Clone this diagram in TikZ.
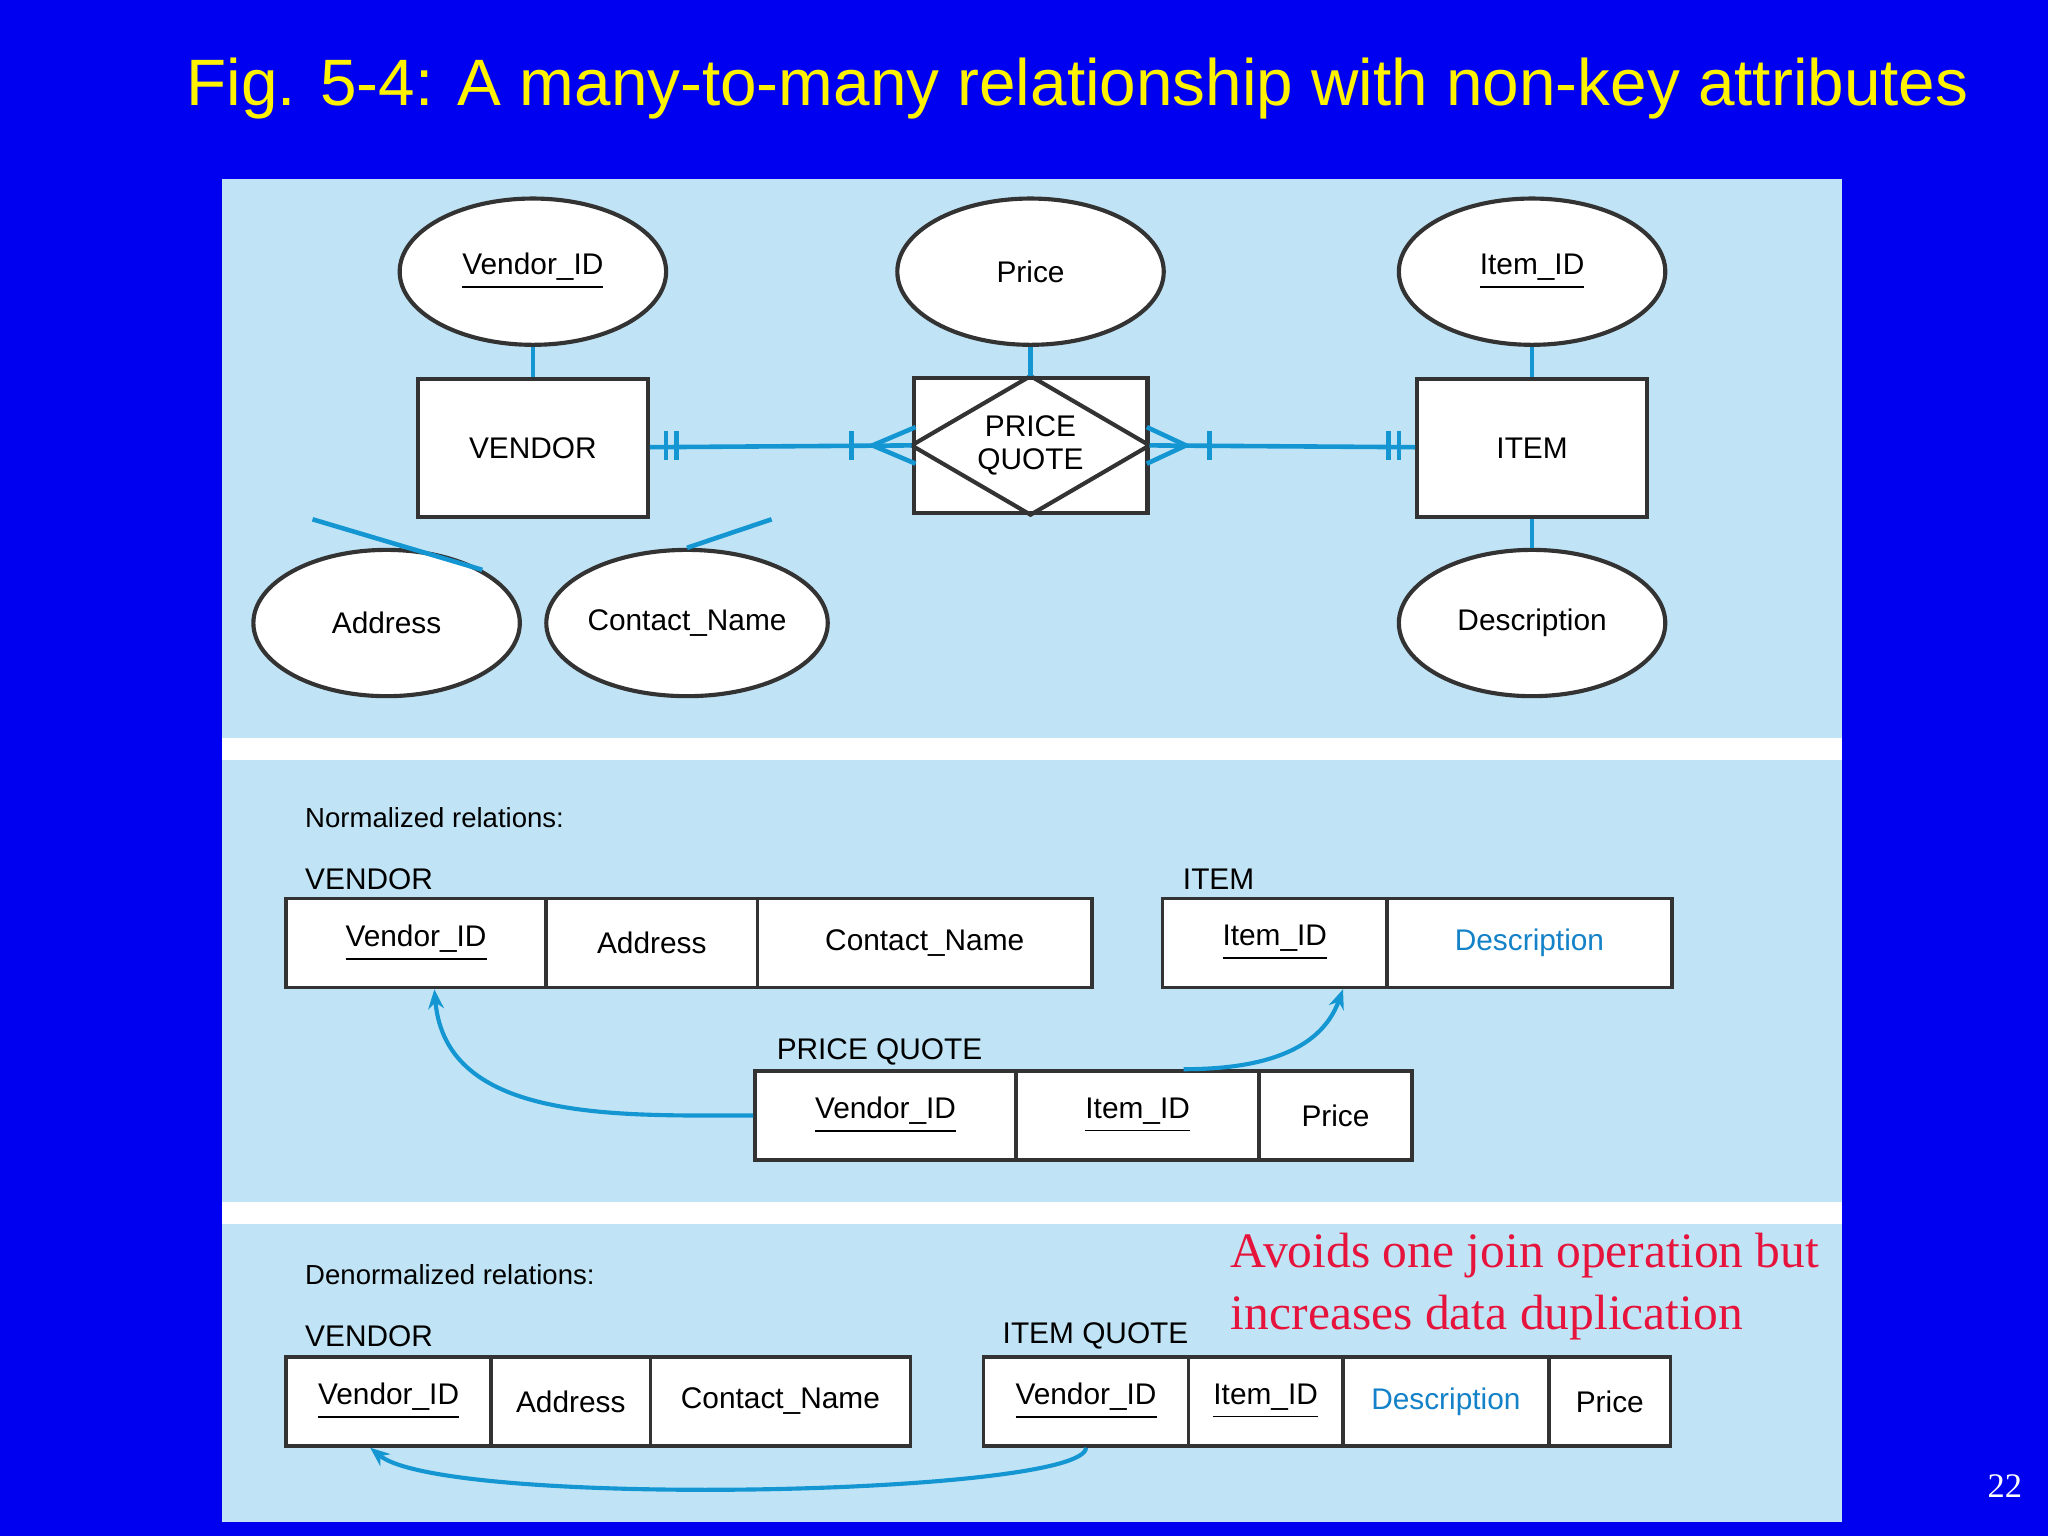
\documentclass[tikz,border=0pt]{standalone}
\usepackage{fontspec}
\setmainfont{Liberation Sans}
\newfontfamily\seriffont{Liberation Serif}
\usetikzlibrary{arrows.meta}
\usetikzlibrary{shapes}
\usetikzlibrary{positioning}
\definecolor{slideblue}{RGB}{0,0,240}
\definecolor{panel}{RGB}{192,228,245}
\definecolor{lnkblue}{RGB}{20,150,210}
\definecolor{descblue}{RGB}{20,130,200}
\tikzset{%
	attr/.style={ellipse,draw=black!80,line width=0.9,fill=white,minimum width=2.04cm,minimum height=1.12cm,inner sep=0,font=\fontsize{6.5}{8}\selectfont},
	ent/.style={rectangle,draw=black!80,line width=0.9,fill=white,minimum width=1.76cm,minimum height=1.06cm,font=\fontsize{6.5}{8}\selectfont},
	cell/.style={rectangle,draw=black!80,line width=0.8,fill=white,minimum height=0.68cm,inner sep=0,font=\fontsize{6.5}{8}\selectfont},
	lbl/.style={anchor=west,inner sep=0,font=\fontsize{6}{8}\selectfont},
	rel/.style={line width=1,color=lnkblue},
	fk/.style={arrows={-Stealth[length=0.15cm,width=0.12cm]},line width=0.9,color=lnkblue},
}
\begin{document}
\begin{tikzpicture}[x=0.1mm,y=-0.1mm]
	\useasboundingbox (0,0) rectangle (1568,1176);
	\fill[slideblue] (0,0) rectangle (1568,1176);
	\fill[panel] (170,137) rectangle (1410,1165);
	\fill[white] (170,565) rectangle (1410,582);
	\fill[white] (170,920) rectangle (1410,937);
	\node (title) at (825,68) [text=yellow,font=\fontsize{14.3}{16}\selectfont] {Fig. 5-4: A many-to-many relationship with non-key attributes};
	
	% E-R diagram
	\node (vid) at (408,208) [attr] {\underline{Vendor\_ID}};
	\node (prc) at (789,208) [attr] {Price};
	\node (iid) at (1173,208) [attr] {\underline{Item\_ID}};
	\node (adr) at (296,477) [attr] {Address};
	\node (cnm) at (526,477) [attr] {Contact\_Name};
	\node (dsc) at (1173,477) [attr] {Description};
	\node (vnd) at (408,343) [ent] {VENDOR};
	\node (itm) at (1173,343) [ent] {ITEM};
	\node (pq) at (789,341) [ent,minimum width=1.79cm,minimum height=1.03cm,align=center] {PRICE\\[-1pt]QUOTE};
	\draw[draw=black!80,line width=0.9] (pq.north) -- (pq.east) -- (pq.south) -- (pq.west) -- cycle;
	\draw[rel] (vid) -- (vnd);
	\draw[rel] (prc) -- (pq);
	\draw[rel] (iid) -- (itm);
	\draw[rel] (itm) -- (dsc);
	\draw[rel] ([xshift=-48]vnd.south) -- (adr.north east);
	\draw[rel] ([xshift=52]vnd.south) -- (cnm.north);
	\draw[rel] (vnd) -- (pq.west);
	\draw[rel] (pq.east) -- (itm);
	% cardinality marks
	\draw[rel] (510,330) -- ++(0,22) (518,330) -- ++(0,22);
	\draw[rel] (652,330) -- ++(0,22);
	\draw[rel] (701,327) -- (668,341) -- (701,355);
	\draw[rel] (878,327) -- (908,341) -- (878,355);
	\draw[rel] (926,330) -- ++(0,22);
	\draw[rel] (1063,330) -- ++(0,22) (1071,330) -- ++(0,22);
	
	% normalized relations
	\node (nrm) at (233,626) [lbl] {Normalized relations:};
	\node (tv) at (233,673) [lbl,font=\fontsize{6.5}{8}\selectfont] {VENDOR};
	\node (v1) at (318.5,722) [cell,minimum width=1.99cm] {\underline{Vendor\_ID}};
	\node (v2) at (499,722) [cell,minimum width=1.62cm] {Address};
	\node (v3) at (708,722) [cell,minimum width=2.56cm] {Contact\_Name};
	\node (ti) at (905,673) [lbl,font=\fontsize{6.5}{8}\selectfont] {ITEM};
	\node (i1) at (976,722) [cell,minimum width=1.72cm] {\underline{Item\_ID}};
	\node (i2) at (1171,722) [cell,minimum width=2.18cm,text=descblue] {Description};
	\node (tp) at (594,805) [lbl,font=\fontsize{6.5}{8}\selectfont] {PRICE QUOTE};
	\node (p1) at (678,854) [cell,minimum width=2.0cm] {\underline{Vendor\_ID}};
	\node (p2) at (871,854) [cell,minimum width=1.86cm] {\underline{Item\_ID}};
	\node (p3) at (1022.5,854) [cell,minimum width=1.17cm] {Price};
	\draw[fk] (p1.west) to[out=180,in=-85] ([xshift=4]v1.south);
	\draw[fk] ([xshift=10]p2.north) to[out=0,in=-110] ([xshift=-10]i1.south east);
	
	% denormalized relations
	\node (dnm) at (233,976) [lbl] {Denormalized relations:};
	\node (dv) at (233,1023) [lbl,font=\fontsize{6.5}{8}\selectfont] {VENDOR};
	\node (d1) at (297.5,1073) [cell,minimum width=1.57cm] {\underline{Vendor\_ID}};
	\node (d2) at (437,1073) [cell,minimum width=1.22cm] {Address};
	\node (d3) at (597.5,1073) [cell,minimum width=1.99cm] {Contact\_Name};
	\node (dq) at (767,1023) [lbl,font=\fontsize{6.5}{8}\selectfont] {ITEM QUOTE};
	\node (q1) at (831.5,1073) [cell,minimum width=1.57cm] {\underline{Vendor\_ID}};
	\node (q2) at (969,1073) [cell,minimum width=1.18cm] {\underline{Item\_ID}};
	\node (q3) at (1107,1073) [cell,minimum width=1.58cm,text=descblue] {Description};
	\node (q4) at (1232.5,1073) [cell,minimum width=0.93cm] {Price};
	\draw[fk] (q1.south) .. controls (830,1145) and (340,1155) .. ([xshift=-4]d1.south);
	
	\node (note) at (930,985) [anchor=west,align=left,text={rgb,255:red,230;green,20;blue,60},font=\seriffont\fontsize{10.8}{13.5}\selectfont] {Avoids one join operation but\\increases data duplication};
	\node (pg) at (1535,1138) [text=white,font=\seriffont\fontsize{7.5}{9}\selectfont] {22};
\end{tikzpicture}
\end{document}
